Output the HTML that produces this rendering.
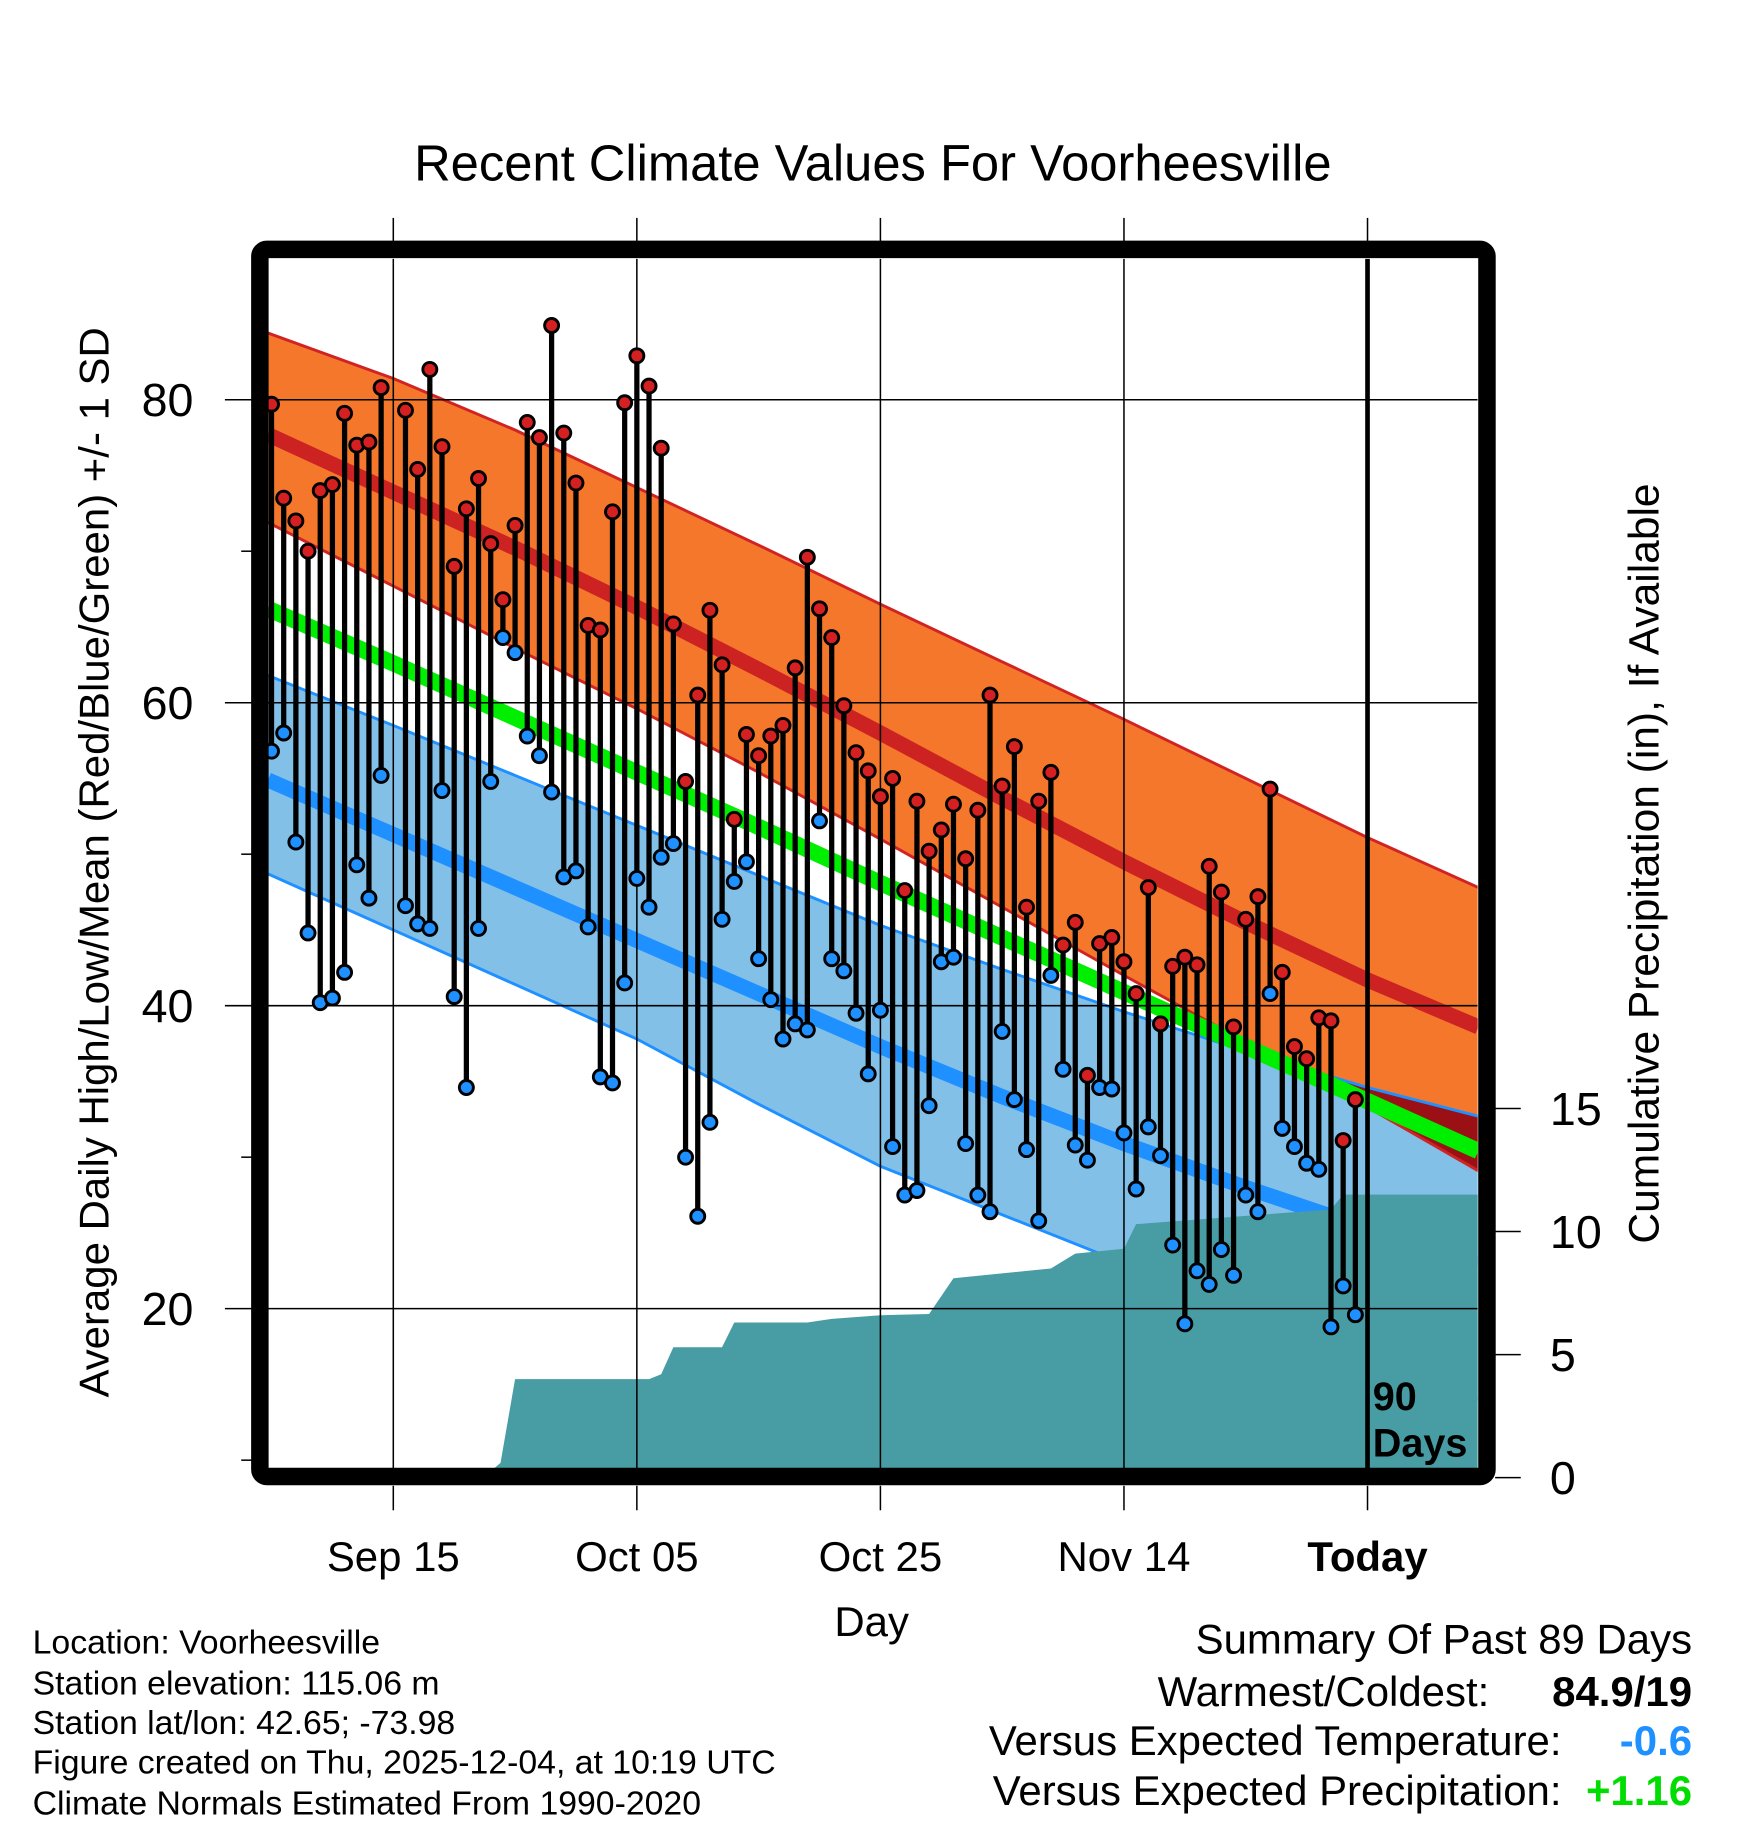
<!DOCTYPE html>
<html><head><meta charset="utf-8"><style>
html,body{margin:0;padding:0;background:#fff;}
svg{display:block;font-family:"Liberation Sans",sans-serif;}
</style></head><body>
<svg id="chart" width="1748" height="1828" viewBox="0 0 1500 1568.65" xmlns="http://www.w3.org/2000/svg">
<text x="749" y="155" font-size="43.5" text-anchor="middle">Recent Climate Values For Voorheesville</text>
<g id="plot"></g>
<text transform="translate(93,740) rotate(-90)" font-size="36" text-anchor="middle">Average Daily High/Low/Mean (Red/Blue/Green) +/- 1 SD</text>
<text transform="translate(1423,741) rotate(-90)" font-size="36.5" text-anchor="middle">Cumulative Precipitation (in), If Available</text>
<text x="748" y="1404" font-size="36" text-anchor="middle">Day</text>
<g font-size="29">
<text x="28" y="1419">Location: Voorheesville</text>
<text x="28" y="1454">Station elevation: 115.06 m</text>
<text x="28" y="1488">Station lat/lon: 42.65; -73.98</text>
<text x="28" y="1522">Figure created on Thu, 2025-12-04, at 10:19 UTC</text>
<text x="28" y="1557">Climate Normals Estimated From 1990-2020</text>
</g>
<g font-size="36">
<text x="1452" y="1419" text-anchor="end">Summary Of Past 89 Days</text>
<text x="1278" y="1464" text-anchor="end">Warmest/Coldest:</text>
<text x="1452" y="1464" text-anchor="end" font-weight="bold">84.9/19</text>
<text x="1340" y="1506" text-anchor="end">Versus Expected Temperature:</text>
<text x="1452" y="1506" text-anchor="end" font-weight="bold" fill="#1e90ff">-0.6</text>
<text x="1340" y="1549" text-anchor="end">Versus Expected Precipitation:</text>
<text x="1452" y="1549" text-anchor="end" font-weight="bold" fill="#00dd00">+1.16</text>
</g>
</svg>
<script>
// Day index from Sep 5 (0) ; Today = day 90
const days = [0,1,2,3,4,5,6,7,8,9,11,12,13,14,15,16,17,18,19,20,21,22,23,24,25,26,27,28,29,30,31,32,33,34,35,36,37,38,39,40,41,42,43,44,45,46,47,48,49,50,51,52,53,54,55,56,57,58,59,60,61,62,63,64,65,66,67,68,69,70,71,72,73,74,75,76,77,78,79,80,81,82,83,84,85,86,87,88,89];
const highs = [79.7,73.5,72,70,74,74.4,79.1,77,77.2,80.8,79.3,75.4,82,76.9,69,72.8,74.8,70.5,66.8,71.7,78.5,77.5,84.9,77.8,74.5,65.1,64.8,72.6,79.8,82.9,80.9,76.8,65.2,54.8,60.5,66.1,62.5,52.3,57.9,56.5,57.8,58.5,62.3,69.6,66.2,64.3,59.8,56.7,55.5,53.8,55,47.6,53.5,50.2,51.6,53.3,49.7,52.9,60.5,54.5,57.1,46.5,53.5,55.4,44,45.5,35.4,44.1,44.5,42.9,40.8,47.8,38.8,42.6,43.2,42.7,49.2,47.5,38.6,45.7,47.2,54.3,42.2,37.3,36.5,39.2,39,31.1,33.8];
const lows = [56.8,58,50.8,44.8,40.2,40.5,42.2,49.3,47.1,55.2,46.6,45.4,45.1,54.2,40.6,34.6,45.1,54.8,64.3,63.3,57.8,56.5,54.1,48.5,48.9,45.2,35.3,34.9,41.5,48.4,46.5,49.8,50.7,30,26.1,32.3,45.7,48.2,49.5,43.1,40.4,37.8,38.8,38.4,52.2,43.1,42.3,39.5,35.5,39.7,30.7,27.5,27.8,33.4,42.9,43.2,30.9,27.5,26.4,38.3,33.8,30.5,25.8,42,35.8,30.8,29.8,34.6,34.5,31.6,27.9,32,30.1,24.2,19,22.5,21.6,23.9,22.2,27.5,26.4,40.8,31.9,30.7,29.6,29.2,18.8,21.5,19.6];
// climate normals sampled at these day indices
const normDays = [-0.3,10,20,30,40,50,60,70,80,90,99.1];
const highUpper = [84.4,81.4,78.0,74.2,70.4,66.5,62.7,58.9,55.0,51.1,47.8];
const highMean = [77.7,73.9,70.2,66.3,62.2,58.0,53.7,49.5,45.5,41.7,38.6];
const highLower = [71.9,67.7,63.6,59.6,55.4,51.0,46.5,42.0,37.6,33.3,29.1];
const normMean = [66.2,62.6,59.0,55.4,51.8,48.1,44.5,40.9,37.3,33.7,30.4];
const lowUpper = [61.8,58.5,55.2,51.9,48.6,45.3,42.4,39.6,37.0,34.6,32.7];
const lowMean = [54.9,51.3,47.8,44.3,40.8,37.3,34.0,30.9,28.0,25.3,23.0];
const lowLower = [48.7,45.0,41.4,37.8,33.5,29.4,26.2,23.0,19.8,16.7,14.0];
// cumulative precipitation (in)
const precipDays = [-0.3,17.4,18.8,20,31,32,33,37,38,44,46,50,54,56,64,66,70,71,87,88,99.1];
const precipVals = [0,0,0.6,4.0,4.0,4.2,5.3,5.3,6.3,6.3,6.45,6.6,6.65,8.1,8.5,9.1,9.3,10.3,10.9,11.5,11.5];

const X0=233, DX=10.45, PL=230, PR=1268, PT=222, PB=1260;
const xs = d => X0 + d*DX;
const yT = t => 343 + (80 - t)*13;
const yP = p => 1268 - p*21.12;
const NS='http://www.w3.org/2000/svg';
const plot=document.getElementById('plot');
function mk(tag, attrs, parent){const e=document.createElementNS(NS,tag);for(const k in attrs)e.setAttribute(k,attrs[k]);(parent||plot).appendChild(e);return e;}
function line(arr,f){return normDays.map((d,i)=>xs(d).toFixed(1)+','+f(arr[i]).toFixed(1));}

const defs=mk('defs',{});
const cp=mk('clipPath',{id:'pc'},defs);mk('rect',{x:PL,y:PT,width:PR-PL,height:PB-PT},cp);
const g=mk('g',{'clip-path':'url(#pc)'});



const hiTop=line(highUpper,yT), hiBot=line(highLower,yT);
const loTop=line(lowUpper,yT), loBot=line(lowLower,yT);
const hiPoly=hiTop.concat(hiBot.slice().reverse()).join(' ');
const loPoly=loTop.concat(loBot.slice().reverse()).join(' ');
const cp2=mk('clipPath',{id:'lc'},defs);mk('polygon',{points:loPoly},cp2);

let e;
e=mk('polygon',{points:loPoly,fill:'#82c0e8'},g);


e=mk('polygon',{points:hiPoly,fill:'#f4772c'},g);


e=mk('polygon',{points:hiPoly,fill:'#9a1014','clip-path':'url(#lc)'},g);


mk('polyline',{points:hiTop.join(' '),fill:'none',stroke:'#d02424','stroke-width':2.5},g);
mk('polyline',{points:hiBot.join(' '),fill:'none',stroke:'#d02424','stroke-width':2.5},g);
mk('polyline',{points:loTop.join(' '),fill:'none',stroke:'#1e90ff','stroke-width':2.5},g);
mk('polyline',{points:loBot.join(' '),fill:'none',stroke:'#1e90ff','stroke-width':2.5},g);
e=mk('polyline',{points:line(highMean,yT).join(' '),fill:'none',stroke:'#cc2222','stroke-width':13},g);


e=mk('polyline',{points:line(normMean,yT).join(' '),fill:'none',stroke:'#00ee00','stroke-width':14},g);


e=mk('polyline',{points:line(lowMean,yT).join(' '),fill:'none',stroke:'#1e90ff','stroke-width':13},g);



// precipitation area
const pp=precipDays.map((d,i)=>xs(d).toFixed(1)+','+yP(precipVals[i]).toFixed(1));
pp.push(xs(precipDays[precipDays.length-1])+','+PB, xs(precipDays[0])+','+PB);
e=mk('polygon',{points:pp.join(' '),fill:'#489ca4'},g);



// gridlines
[20,40,60,80].forEach(t=>{mk('line',{x1:PL,x2:PR,y1:yT(t),y2:yT(t),stroke:'#000','stroke-width':1.3},g);});
const xTickDays=[10,30,50,70];
const xTickLabels=['Sep 15','Oct 05','Oct 25','Nov 14'];
xTickDays.forEach(d=>{mk('line',{x1:xs(d),x2:xs(d),y1:PT,y2:PB,stroke:'#000','stroke-width':1.3},g);});

// stems and dots
days.forEach((d,i)=>{
  const x=xs(d);
  e=mk('line',{x1:x,x2:x,y1:yT(highs[i]),y2:yT(lows[i]),stroke:'#000','stroke-width':4.5},g);
  
  
});
days.forEach((d,i)=>{
  const x=xs(d);
  e=mk('circle',{cx:x,cy:yT(lows[i]),r:6,fill:'#1e90ff',stroke:'#000','stroke-width':2.5},g);
  
  
  e=mk('circle',{cx:x,cy:yT(highs[i]),r:6,fill:'#d42020',stroke:'#000','stroke-width':2.5},g);
  
  
});
// today line
e=mk('line',{x1:xs(90),x2:xs(90),y1:PT,y2:PB,stroke:'#000','stroke-width':4},g);


e=mk('text',{x:1178,y:1210,'font-size':34,'font-weight':'bold'},g);e.textContent='90';


e=mk('text',{x:1178,y:1250,'font-size':34,'font-weight':'bold'},g);e.textContent='Days';



// frame
e=mk('rect',{x:PL-7,y:PT-8,width:PR-PL+15,height:PB-PT+15,rx:6,fill:'none',stroke:'#000','stroke-width':15});



// left axis
const yTicks=[20,40,60,80];
yTicks.forEach(t=>{
  mk('line',{x1:193,x2:PL-14,y1:yT(t),y2:yT(t),stroke:'#000','stroke-width':1.3});
  e=mk('text',{x:166,y:yT(t)+14,'font-size':40,'text-anchor':'end'});e.textContent=String(t);
  
  
});
[10,30,50,70].forEach(t=>{mk('line',{x1:207,x2:PL-14,y1:yT(t),y2:yT(t),stroke:'#000','stroke-width':1.3});});
// right axis
const pTicks=[0,5,10,15];
pTicks.forEach(p=>{
  mk('line',{x1:PR+15,x2:1305,y1:yP(p),y2:yP(p),stroke:'#000','stroke-width':1.3});
  e=mk('text',{x:1330,y:yP(p)+14,'font-size':40});e.textContent=String(p);
  
  
});
// x ticks
xTickDays.concat([90]).forEach((d,i)=>{
  mk('line',{x1:xs(d),x2:xs(d),y1:187,y2:PT-15,stroke:'#000','stroke-width':1.3});
  mk('line',{x1:xs(d),x2:xs(d),y1:PB+15,y2:1296,stroke:'#000','stroke-width':1.3});
  e=mk('text',{x:xs(d),y:1348,'font-size':36,'text-anchor':'middle','font-weight':d===90?'bold':'normal'});
  e.textContent=d===90?'Today':xTickLabels[i];
  
  
});
</script>
</body></html>
